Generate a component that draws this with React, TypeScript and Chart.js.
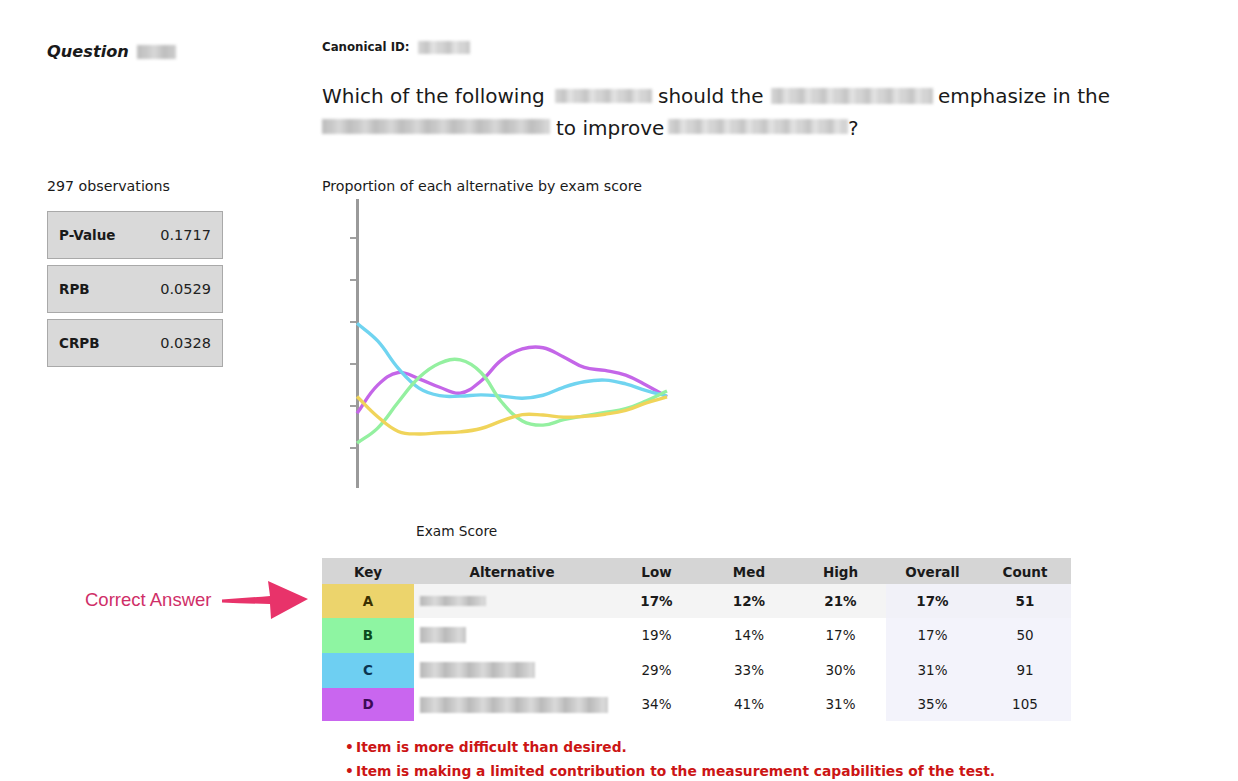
import React, { useEffect, useRef } from "react";
import { Chart, registerables } from "chart.js";

Chart.register(...registerables);

// ---- data ----
const scorePoints = ["1", "2", "3", "4", "5", "6", "7", "8", "9", "10", "11", "12", "13", "14", "15", "16"];
const seriesA = [0.223, 0.175, 0.14, 0.134, 0.137, 0.139, 0.147, 0.165, 0.18, 0.179, 0.174, 0.176, 0.181, 0.19, 0.208, 0.222];
const seriesB = [0.112, 0.148, 0.21, 0.268, 0.302, 0.31, 0.28, 0.21, 0.165, 0.155, 0.168, 0.177, 0.185, 0.194, 0.213, 0.236];
const seriesC = [0.397, 0.355, 0.29, 0.243, 0.225, 0.224, 0.227, 0.224, 0.219, 0.226, 0.245, 0.258, 0.262, 0.253, 0.237, 0.224];
const seriesD = [0.183, 0.25, 0.28, 0.265, 0.245, 0.231, 0.26, 0.31, 0.336, 0.339, 0.317, 0.292, 0.285, 0.274, 0.25, 0.222];
const yTicks = [0.1, 0.2, 0.3, 0.4, 0.5, 0.6];

const keys = ["A", "B", "C", "D"];
const lowPct = ["17%", "19%", "29%", "34%"];
const medPct = ["12%", "14%", "33%", "41%"];
const highPct = ["21%", "17%", "30%", "31%"];
const overallPct = ["17%", "17%", "31%", "35%"];
const counts = ["51", "50", "91", "105"];
const altBlurWidths = [66, 46, 115, 188];

const stats = [
  ["P-Value", "0.1717"],
  ["RPB", "0.0529"],
  ["CRPB", "0.0328"],
];

const lineColors = ["#f0d45a", "#94f0a0", "#70d4f0", "#c466e8"];
const keyColors = ["#ecd46c", "#8ef5a2", "#6ecff2", "#c966ef"];
const keyTextColors = ["#3a3000", "#0b4a1c", "#0a3550", "#3c0a55"];

const FONT = "'DejaVu Sans', sans-serif";

function Blur({ x, y, w, h, light }: { x: number; y: number; w: number; h: number; light?: boolean }) {
  return (
    <div
      style={{
        position: "absolute",
        left: x,
        top: y,
        width: w,
        height: h,
        background: light
          ? "repeating-linear-gradient(90deg,#d8d8d8 0px,#c4c4c4 9px,#e4e4e4 15px,#cfcfcf 22px)"
          : "repeating-linear-gradient(90deg,#bdbdbd 0px,#cacaca 11px,#d8d8d8 17px,#c2c2c2 26px)",
        filter: "blur(1.4px)",
      }}
    />
  );
}

function LineChart() {
  const ref = useRef<HTMLCanvasElement | null>(null);
  useEffect(() => {
    if (!ref.current) return;
    const all = [seriesA, seriesB, seriesC, seriesD];
    const chart = new Chart(ref.current, {
      type: "line",
      data: {
        labels: scorePoints,
        datasets: all.map((d, i) => ({
          label: keys[i],
          data: d,
          borderColor: lineColors[i],
          borderWidth: 3.4,
          pointRadius: 0,
          tension: 0.4,
          fill: false,
          clip: false as any,
        })),
      },
      options: {
        animation: false,
        responsive: false,
        maintainAspectRatio: false,
        layout: { padding: { left: 20, right: 23, top: 10, bottom: 13 } },
        plugins: { legend: { display: false }, tooltip: { enabled: false }, title: { display: false } },
        scales: {
          x: { display: false },
          y: {
            min: 0.008,
            max: 0.69,
            afterBuildTicks: (axis: any) => {
              axis.ticks = yTicks.map((v) => ({ value: v }));
            },
            ticks: { display: false },
            grid: {
              display: true,
              drawOnChartArea: false,
              drawTicks: true,
              tickLength: 7,
              color: "#a0a0a0",
              lineWidth: 2,
            },
            border: { display: true, color: "#9a9a9a", width: 3 },
          },
        },
      },
    });
    return () => chart.destroy();
  }, []);
  return <canvas ref={ref} width={360} height={310} style={{ position: "absolute", left: 330, top: 190, width: 360, height: 310 }} />;
}

const colW = [92, 196, 93, 92, 91, 93, 92];
const rowH = [34, 35, 35, 33];

function T({ x, y, size, children, weight, style }: { x: number; y: number; size: number; children: any; weight?: number; style?: any }) {
  return (
    <div style={{ position: "absolute", left: x, top: y, fontSize: size, fontWeight: weight || 400, lineHeight: "24px", whiteSpace: "nowrap", ...style }}>
      {children}
    </div>
  );
}

export default function App() {
  const headers = ["Key", "Alternative", "Low", "Med", "High", "Overall", "Count"];
  return (
    <div style={{ position: "fixed", left: 0, top: 0, width: 1238, height: 781, background: "#fff", fontFamily: FONT, color: "#1a1a1a", overflow: "hidden" }}>
      {/* header */}
      <T x={47} y={40} size={16.2} weight={700} style={{ fontStyle: "italic" }}>Question</T>
      <Blur x={137} y={45} w={39} h={14} />
      <T x={322} y={35} size={11.8} weight={700}>Canonical ID:</T>
      <Blur x={418} y={41} w={52} h={13} light />

      <T x={322} y={84} size={20}>Which of the following</T>
      <T x={658} y={84} size={20}>should the</T>
      <T x={938} y={84} size={20}>emphasize in the</T>
      <Blur x={555} y={89} w={97} h={14} light />
      <Blur x={771} y={88} w={162} h={16} light />
      <T x={556} y={116} size={20}>to improve</T>
      <T x={848} y={116} size={20}>?</T>
      <Blur x={322} y={119} w={228} h={15} />
      <Blur x={668} y={119} w={180} h={15} light />

      {/* stats */}
      <T x={47} y={174} size={14.2}>297 observations</T>
      {stats.map((s, i) => (
        <div
          key={s[0]}
          style={{
            position: "absolute",
            left: 47,
            top: 211 + i * 54,
            width: 174,
            height: 46,
            background: "#d9d9d9",
            border: "1px solid #a9a9a9",
            boxSizing: "content-box",
            fontSize: 13.5,
          }}
        >
          <span style={{ position: "absolute", left: 11, top: 14, fontWeight: 700, lineHeight: "18px" }}>{s[0]}</span>
          <span style={{ position: "absolute", right: 11, top: 14, fontWeight: 400, fontSize: 14.5, color: "#222", lineHeight: "18px" }}>{s[1]}</span>
        </div>
      ))}

      {/* chart */}
      <T x={322} y={174} size={14.2}>Proportion of each alternative by exam score</T>
      <LineChart />
      <T x={416} y={519} size={13.7}>Exam Score</T>

      {/* correct answer */}
      <div style={{ position: "absolute", left: 85, top: 589, fontSize: 18.5, lineHeight: "22px", color: "#cf2f68", fontFamily: "'Liberation Sans', Arial, sans-serif" }}>
        Correct Answer
      </div>
      <svg style={{ position: "absolute", left: 215, top: 578 }} width={100} height={44}>
        <path d="M7 21.5 Q30 20 55 18 L53 3 L93 21 L56 41 L55 26 Q30 25.5 7 24.5 Z" fill="#e8336a" />
      </svg>

      {/* table */}
      <div style={{ position: "absolute", left: 322, top: 558, width: 749 }}>
        <div style={{ display: "flex", height: 26, background: "#d5d5d5" }}>
          {headers.map((h, j) => (
            <div key={h} style={{ width: colW[j], textAlign: "center", fontWeight: 700, fontSize: 13.5, lineHeight: "28px" }}>
              {h}
            </div>
          ))}
        </div>
        {keys.map((k, i) => {
          const bold = i === 0;
          const cells = [lowPct[i], medPct[i], highPct[i], overallPct[i], counts[i]];
          const base = i === 0 ? "#f4f4f4" : "#ffffff";
          const lav = i === 0 ? "#f1f1f8" : "#f3f3fb";
          return (
            <div key={k} style={{ display: "flex", height: rowH[i], fontSize: 13.5, lineHeight: rowH[i] + "px" }}>
              <div style={{ width: colW[0], background: keyColors[i], textAlign: "center", fontWeight: 700, color: keyTextColors[i] }}>{k}</div>
              <div style={{ width: colW[1], background: base, position: "relative" }}>
                <div
                  style={{
                    position: "absolute",
                    left: 6,
                    top: i === 0 ? 12 : 9,
                    width: altBlurWidths[i],
                    height: i === 0 ? 10 : 16,
                    background: "repeating-linear-gradient(90deg,#b8b8b8 0px,#cdcdcd 10px,#dadada 15px,#c0c0c0 24px)",
                    filter: "blur(1.3px)",
                  }}
                />
              </div>
              {cells.map((c, j) => (
                <div
                  key={j}
                  style={{
                    width: colW[j + 2],
                    textAlign: "center",
                    background: j >= 3 ? lav : base,
                    fontWeight: bold ? 700 : 400,
                  }}
                >
                  {c}
                </div>
              ))}
            </div>
          );
        })}
      </div>

      {/* notes */}
      <div style={{ position: "absolute", left: 345, top: 735, fontSize: 13.8, fontWeight: 700, color: "#cc1515", lineHeight: "24px", whiteSpace: "nowrap" }}>
        <div>
          <span style={{ display: "inline-block", width: 11 }}>•</span>Item is more difficult than desired.
        </div>
        <div>
          <span style={{ display: "inline-block", width: 11 }}>•</span>Item is making a limited contribution to the measurement capabilities of the test.
        </div>
      </div>
    </div>
  );
}
